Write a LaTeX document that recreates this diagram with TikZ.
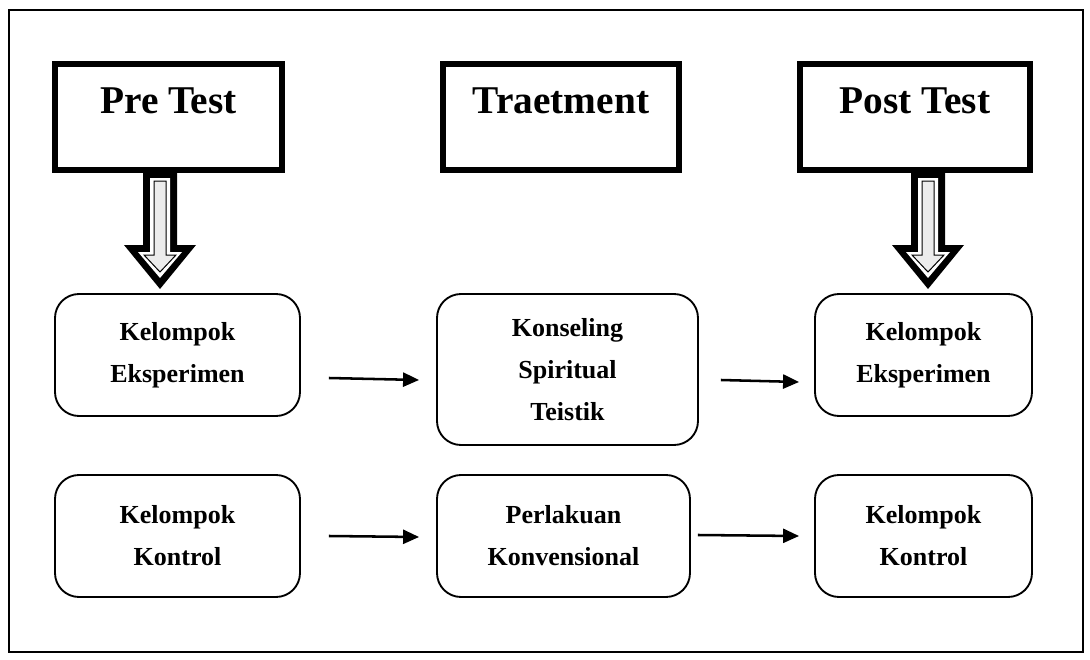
\documentclass[tikz,border=0pt]{standalone}
\usepackage{fontspec}
\setmainfont{Liberation Serif}
\usetikzlibrary{arrows.meta}

\begin{document}
\begin{tikzpicture}[x=0.75pt, y=-0.75pt, thick,
  headbox/.style={draw, line width=4.5pt, inner sep=0pt, anchor=north,
    text height=37.5pt, text depth=42pt,
    font=\fontsize{29.5}{34}\selectfont\bfseries},
  grupbox/.style={draw, line width=1.4pt, rounded corners=18pt, align=center,
    minimum height=91.5pt, font=\fontsize{19.5}{31.5}\selectfont\bfseries},
  panah/.style={line width=1.9pt, -{Triangle[length=12pt,width=10.5pt]}}]
  \useasboundingbox (0,0) rectangle (1090,660);
  % bingkai luar
  \draw[line width=1.1pt] (9,10) rectangle (1083,652);
  % judul tahap
  \node[headbox, minimum width=170.25pt] (pre) at (168.5,61) {Pre Test};
  \node[headbox, minimum width=177pt] (treat) at (561,61) {Traetment};
  \node[headbox, minimum width=172.5pt] (post) at (915,61) {Post Test};
  % panah blok berongga
  \foreach \cx in {160,928}{
    \fill (\cx-17,172) -- (\cx+17,172) -- (\cx+17,245) -- (\cx+36,245)
      -- (\cx,289) -- (\cx-36,245) -- (\cx-17,245) -- cycle;
    \fill[white] (\cx-10,178) -- (\cx+10,178) -- (\cx+10,252) -- (\cx+22,252)
      -- (\cx,278) -- (\cx-22,252) -- (\cx-10,252) -- cycle;
    \filldraw[fill=gray!15, line width=0.75pt] (\cx-6,181) -- (\cx+6,181)
      -- (\cx+6,255) -- (\cx+16,255) -- (\cx,272) -- (\cx-16,255)
      -- (\cx-6,255) -- cycle;
  }
  % kelompok eksperimen
  \node[grupbox, minimum width=183.75pt] (k1) at (177.5,355) {Kelompok\\Eksperimen};
  \node[grupbox, minimum width=195.75pt, minimum height=113.25pt] (k2) at (567.5,369.5)
    {Konseling\\Spiritual\\Teistik};
  \node[grupbox, minimum width=162.75pt] (k3) at (923.5,355) {Kelompok\\Eksperimen};
  % kelompok kontrol
  \node[grupbox, minimum width=183.75pt] (k4) at (177.5,536) {Kelompok\\Kontrol};
  \node[grupbox, minimum width=189.75pt] (k5) at (563.5,536) {Perlakuan\\Konvensional};
  \node[grupbox, minimum width=162.75pt] (k6) at (923.5,536) {Kelompok\\Kontrol};
  % alur
  \draw[panah] ([shift={(28,23)}]k1.east) -- ([shift={(-17,10.5)}]k2.west);
  \draw[panah] ([shift={(22,10.5)}]k2.east) -- ([shift={(-15,27)}]k3.west);
  \draw[panah] ([shift={(28,0)}]k4.east) -- ([shift={(-17,1)}]k5.west);
  \draw[panah] ([shift={(7,-1)}]k5.east) -- ([shift={(-15,0)}]k6.west);
\end{tikzpicture}
\end{document}
